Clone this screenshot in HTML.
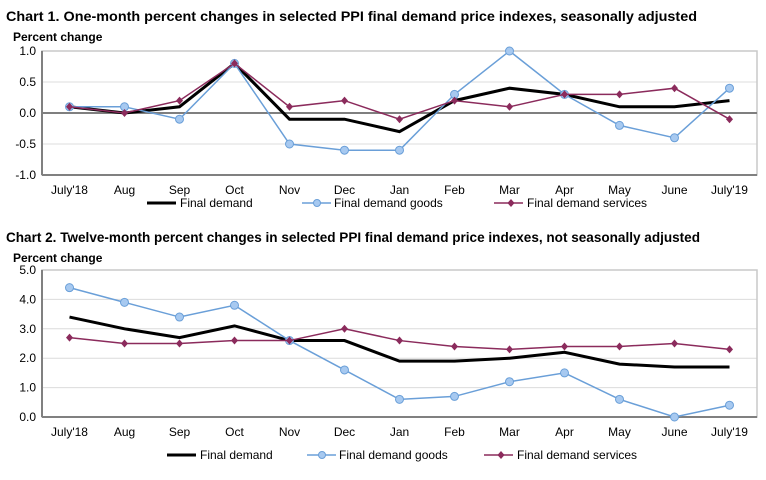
<!DOCTYPE html>
<html><head><meta charset="utf-8"><style>
body{margin:0;background:#fff;font-family:"Liberation Sans",Arial,sans-serif}
svg text{font-family:"Liberation Sans",Arial,sans-serif}
</style></head><body>
<svg id="s" width="766" height="475" xmlns="http://www.w3.org/2000/svg">
<text x="6" y="21" font-size="13.5" font-weight="bold" textLength="691" lengthAdjust="spacingAndGlyphs">Chart 1. One-month percent changes in selected PPI final demand price indexes, seasonally adjusted</text>
<text x="13" y="41" font-size="12" font-weight="bold">Percent change</text>
<text x="6" y="242" font-size="13.5" font-weight="bold" textLength="694" lengthAdjust="spacingAndGlyphs">Chart 2. Twelve-month percent changes in selected PPI final demand price indexes, not seasonally adjusted</text>
<text x="13" y="262" font-size="12" font-weight="bold">Percent change</text>
</svg>
<script>
const categories=["July'18","Aug","Sep","Oct","Nov","Dec","Jan","Feb","Mar","Apr","May","June","July'19"];
const c1FinalDemand=[0.1,0,0.1,0.8,-0.1,-0.1,-0.3,0.2,0.4,0.3,0.1,0.1,0.2];
const c1Goods=[0.1,0.1,-0.1,0.8,-0.5,-0.6,-0.6,0.3,1.0,0.3,-0.2,-0.4,0.4];
const c1Services=[0.1,0,0.2,0.8,0.1,0.2,-0.1,0.2,0.1,0.3,0.3,0.4,-0.1];
const c1Ticks=[-1,-0.5,0,0.5,1];
const c2FinalDemand=[3.4,3.0,2.7,3.1,2.6,2.6,1.9,1.9,2.0,2.2,1.8,1.7,1.7];
const c2Goods=[4.4,3.9,3.4,3.8,2.6,1.6,0.6,0.7,1.2,1.5,0.6,0.0,0.4];
const c2Services=[2.7,2.5,2.5,2.6,2.6,3.0,2.6,2.4,2.3,2.4,2.4,2.5,2.3];
const c2Ticks=[0,1,2,3,4,5];
const NS="http://www.w3.org/2000/svg";
const svg=document.getElementById('s');
function mk(t,a,p){const e=document.createElementNS(NS,t);for(const k in a)e.setAttribute(k,a[k]);(p||svg).appendChild(e);return e;}
const BLUE="#6a9fd8",BFILL="#a7c9f0",PURP="#8b2b5c";
function chart(cfg){
  const L=42,R=757,T=cfg.top,B=cfg.bot;
  const x=i=>L+(R-L)/categories.length*(i+0.5);
  const y=v=>B-(v-cfg.min)/(cfg.max-cfg.min)*(B-T);
  const g=mk('g',{});
  
  
  cfg.ticks.forEach(t=>{
    if(t!==cfg.min&&t!==cfg.max&&t!==0){const l=mk('line',{x1:L,x2:R,y1:y(t),y2:y(t),stroke:"#dcdcdc","stroke-width":1},g);}
    const tx=mk('text',{x:L-6,y:y(t)+4,"font-size":12,"text-anchor":"end"},g);tx.textContent=t.toFixed(1);
    
    
  });
  const fr=mk('rect',{x:L,y:T,width:R-L,height:B-T,fill:"none",stroke:"#c8c8c8","stroke-width":1.5},g);
  
  mk('line',{x1:L,x2:L,y1:T,y2:B,stroke:"#808080","stroke-width":2},g);
  mk('line',{x1:L,x2:R,y1:B,y2:B,stroke:"#808080","stroke-width":2},g);
  if(cfg.min<0){const z=mk('line',{x1:L,x2:R,y1:y(0),y2:y(0),stroke:"#7f7f7f","stroke-width":2},g);}
  categories.forEach((c,i)=>{const tx=mk('text',{x:x(i),y:cfg.labY,"font-size":12,"text-anchor":"middle"},g);tx.textContent=c;
    
    });
  function series(vals,color,w,marker,name){
    const p=mk('polyline',{points:vals.map((v,i)=>x(i)+','+y(v)).join(' '),fill:"none",stroke:color,"stroke-width":w,"stroke-linejoin":"miter"},g);
    
    
    vals.forEach((v,i)=>{
      let m=null;
      if(marker==='circle')m=mk('circle',{cx:x(i),cy:y(v),r:4,fill:BFILL,stroke:BLUE,"stroke-width":1},g);
      if(marker==='diamond'){const X=x(i),Y=y(v);m=mk('polygon',{points:`${X},${Y-4} ${X+3.5},${Y} ${X},${Y+4} ${X-3.5},${Y}`,fill:PURP},g);}
      if(m){}
    });
  }
  series(cfg.fd,"#000",3,null,cfg.id+'-final-demand');
  series(cfg.goods,BLUE,1.5,'circle',cfg.id+'-goods');
  series(cfg.serv,PURP,1.5,'diamond',cfg.id+'-services');
  const ly=cfg.legY, lg=cfg.leg;
  mk('line',{x1:lg[0],x2:lg[0]+29,y1:ly,y2:ly,stroke:"#000","stroke-width":3});
  let t=mk('text',{x:lg[0]+33,y:ly+4,"font-size":12});t.textContent="Final demand";
  
  mk('line',{x1:lg[1],x2:lg[1]+29,y1:ly,y2:ly,stroke:BLUE,"stroke-width":1.5});
  mk('circle',{cx:lg[1]+15,cy:ly,r:3.5,fill:BFILL,stroke:BLUE});
  t=mk('text',{x:lg[1]+32,y:ly+4,"font-size":12});t.textContent="Final demand goods";
  
  mk('line',{x1:lg[2],x2:lg[2]+29,y1:ly,y2:ly,stroke:PURP,"stroke-width":1.5});
  const X=lg[2]+17;mk('polygon',{points:`${X},${ly-4} ${X+3.5},${ly} ${X},${ly+4} ${X-3.5},${ly}`,fill:PURP});
  t=mk('text',{x:lg[2]+33,y:ly+4,"font-size":12});t.textContent="Final demand services";
  
}
chart({id:'chart1',top:51,bot:175,min:-1,max:1,ticks:c1Ticks,fd:c1FinalDemand,goods:c1Goods,serv:c1Services,labY:194,legY:203,leg:[147,302,494]});
chart({id:'chart2',top:270,bot:417,min:0,max:5,ticks:c2Ticks,fd:c2FinalDemand,goods:c2Goods,serv:c2Services,labY:436,legY:455,leg:[167,307,484]});
</script>
</body></html>
